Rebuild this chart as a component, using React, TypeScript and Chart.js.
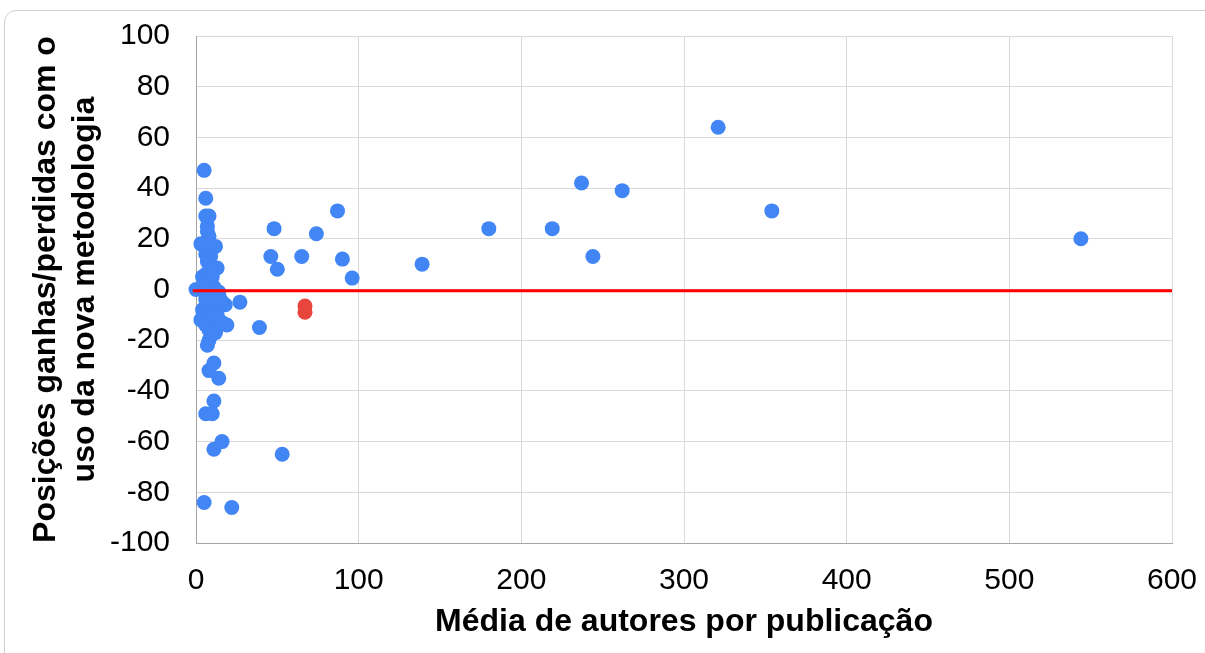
import React, { useEffect, useRef } from "react";
import { Chart, registerables } from "chart.js";

Chart.register(...registerables);

const blueX = [0, 5, 6, 6, 8, 7, 7, 8, 3, 8, 12, 6, 9, 7, 13, 9, 6, 4, 10, 8, 5, 11, 14, 9, 6, 10, 15, 18, 12, 4, 9, 13, 7, 3, 6, 10, 16, 19, 8, 12, 8, 7, 11, 8, 14, 11, 6, 10, 16, 11, 5, 22, 27, 39, 53, 46, 48, 50, 65, 74, 87, 90, 96, 139, 180, 219, 237, 244, 262, 321, 354, 544];
const blueY = [0, 47, 36, 29, 29, 25, 23, 21, 18, 18, 17, 14, 13, 11, 8.5, 8, 6, 5, 5, 3, 1, 1, -1, -2, -4, -4, -4, -6, -6, -8, -9, -10, -11, -12, -14, -14, -13, -14, -16, -17, -20, -22, -29, -32, -35, -44, -49, -49, -60, -63, -84, -86, -5, -15, -65, 13, 24, 8, 13, 22, 31, 12, 4.5, 10, 24, 24, 42, 13, 39, 64, 31, 20];
const redX = [67, 67];
const redY = [-6.5, -9];
const lineX = [-2, 600];
const lineY = [-0.5, -0.5];
const xTicks = [0, 100, 200, 300, 400, 500, 600];
const yTicks = [-100, -80, -60, -40, -20, 0, 20, 40, 60, 80, 100];
const xTitle = "Média de autores por publicação";
const yTitle = ["Posições ganhas/perdidas com o", "uso da nova metodologia"];

const FONT = "'Liberation Sans', Arial, sans-serif";

export default function App() {
  const ref = useRef<HTMLCanvasElement | null>(null);
  useEffect(() => {
    if (!ref.current) return;
    const chart = new Chart(ref.current, {
      type: "scatter",
      data: {
        datasets: [
          {
            type: "line",
            data: lineX.map((x, i) => ({ x, y: lineY[i] })),
            borderColor: "#ff0000",
            borderWidth: 3,
            pointRadius: 0,
            clip: false,
            order: 1,
          } as any,
          {
            data: redX.map((x, i) => ({ x, y: redY[i] })),
            backgroundColor: "#e8453c",
            borderWidth: 0,
            pointRadius: 7.5,
            clip: false,
            order: 2,
          },
          {
            data: blueX.map((x, i) => ({ x, y: blueY[i] })),
            backgroundColor: "#4285f4",
            borderWidth: 0,
            pointRadius: 7.5,
            clip: false,
            order: 3,
          },
        ],
      },
      options: {
        animation: false,
        responsive: false,
        layout: { padding: { top: 36, right: 33, left: 0, bottom: 0 } },
        plugins: { legend: { display: false }, tooltip: { enabled: false } },
        scales: {
          x: {
            type: "linear",
            min: 0,
            max: 600,
            afterBuildTicks: (s: any) => {
              s.ticks = xTicks.map((v) => ({ value: v }));
            },
            afterFit: (s: any) => {
              s.height = 110;
              s.paddingLeft = 0;
              s.paddingRight = 0;
            },
            grid: { color: "#d9d9d9", lineWidth: 1, drawTicks: false },
            border: { color: "#a6a6a6", width: 1 },
            ticks: {
              color: "#000",
              padding: 20,
              font: { family: FONT, size: 30 },
              maxRotation: 0,
            },
            title: {
              display: true,
              text: xTitle,
              color: "#000",
              font: { family: FONT, size: 32, weight: "bold", lineHeight: 1.2 },
              padding: { top: 0, bottom: 12 },
            },
          },
          y: {
            type: "linear",
            min: -100,
            max: 100,
            afterBuildTicks: (s: any) => {
              s.ticks = yTicks.map((v) => ({ value: v }));
            },
            afterFit: (s: any) => {
              s.width = 196;
              s.paddingTop = 0;
              s.paddingBottom = 0;
            },
            grid: { color: "#d9d9d9", lineWidth: 1, drawTicks: false },
            border: { color: "#a6a6a6", width: 1 },
            ticks: {
              color: "#000",
              padding: 26,
              font: { family: FONT, size: 30 },
            },
            title: {
              display: true,
              text: yTitle,
              color: "#000",
              font: { family: FONT, size: 32, weight: "bold", lineHeight: 1.22 },
              padding: { top: 27, bottom: 0 },
            },
          },
        },
      },
    });
    return () => chart.destroy();
  }, []);

  return (
    <div style={{ position: "fixed", left: 0, top: 0, width: 1205, height: 653, background: "#fff", overflow: "hidden" }}>
      <div
        style={{
          position: "absolute",
          left: 4,
          top: 10,
          width: 1220,
          height: 660,
          border: "1px solid #cfcfcf",
          borderRadius: 12,
          boxSizing: "border-box",
        }}
      />
      <canvas ref={ref} width={1205} height={653} style={{ position: "absolute", left: 0, top: 0, width: 1205, height: 653 }} />
    </div>
  );
}
